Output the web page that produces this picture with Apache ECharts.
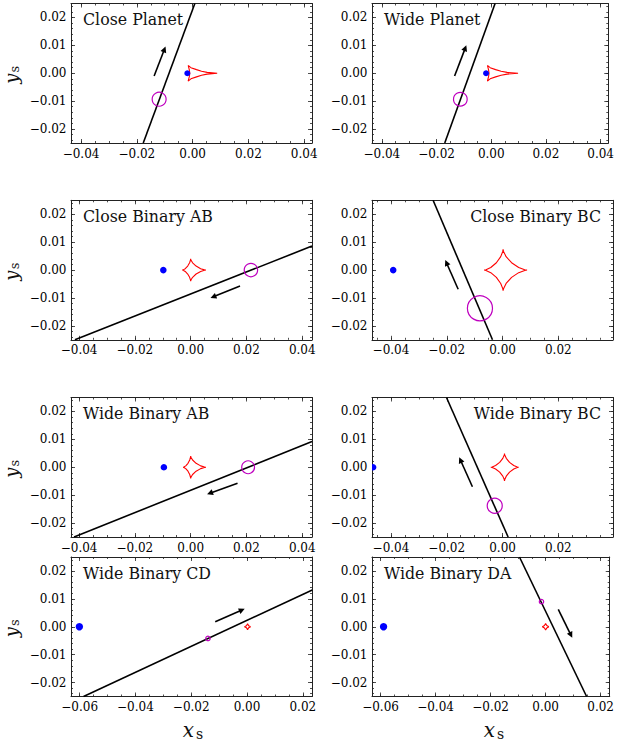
<!DOCTYPE html>
<html><head><meta charset="utf-8">
<script src="https://cdn.jsdelivr.net/npm/echarts@6/dist/echarts.min.js"></script>
<style>html,body{margin:0;padding:0;background:#fff}#c{width:617px;height:742px}</style>
</head><body><div id="c"></div>
<script>
// ---------- data ----------
const panelTitles = ['Close Planet','Wide Planet','Close Binary AB','Close Binary BC','Wide Binary AB','Wide Binary BC','Wide Binary CD','Wide Binary DA'];
const titleAlign = ['left','left','left','right','left','right','left','left'];
const xLimits = [[-0.0436,0.0428],[-0.0436,0.0428],[-0.0429,0.0435],[-0.0468,0.0396],[-0.0429,0.0435],[-0.0468,0.0396],[-0.0631,0.0233],[-0.0631,0.0233]];
const yLimits = [-0.025, 0.025];
const xTicksWide = [-0.04,-0.02,0,0.02,0.04];
const xTicksShift = [-0.04,-0.02,0,0.02];
const xTicksLong = [-0.06,-0.04,-0.02,0,0.02];
const xTickSets = [xTicksWide,xTicksWide,xTicksWide,xTicksShift,xTicksWide,xTicksShift,xTicksLong,xTicksLong];
const yTicks = [-0.02,-0.01,0,0.01,0.02];
const xMinorTicks = [-0.06,-0.055,-0.05,-0.045,-0.04,-0.035,-0.03,-0.025,-0.02,-0.015,-0.01,-0.005,0,0.005,0.01,0.015,0.02,0.025,0.03,0.035,0.04];
const yMinorTicks = [-0.024,-0.022,-0.02,-0.018,-0.016,-0.014,-0.012,-0.01,-0.008,-0.006,-0.004,-0.002,0,0.002,0.004,0.006,0.008,0.01,0.012,0.014,0.016,0.018,0.02,0.022,0.024];

// source trajectory (two points each)
const trajX = [[-0.0177,0.0008],[-0.0170,0.0014],[-0.0415,0.0435],[-0.0249,-0.0036],[-0.0418,0.0435],[-0.0201,0.0020],[-0.0586,0.0234],[-0.0095,0.0149]];
const trajY = [[-0.025,0.025],[-0.025,0.025],[-0.025,0.0086],[0.025,-0.025],[-0.025,0.0092],[0.025,-0.025],[-0.025,0.0132],[0.025,-0.025]];
// direction arrows
const arrowTailX = [-0.0138,-0.0134,0.0177,-0.0159,0.0168,-0.0108,-0.0114,0.0046];
const arrowTailY = [-0.0010,-0.0010,-0.0057,-0.0069,-0.0057,-0.0070,0.0018,0.0062];
const arrowHeadX = [-0.0101,-0.0095,0.0081,-0.0201,0.0069,-0.0151,-0.0018,0.0092];
const arrowHeadY = [0.0086,0.0090,-0.0096,0.0026,-0.0093,0.0026,0.0060,-0.0030];
// source circles
const sourceX = [-0.0120,-0.0113,0.0216,-0.0081,0.0206,-0.0028,-0.0140,-0.0015];
const sourceY = [-0.0093,-0.0093,0,-0.0137,0,-0.0138,-0.0042,0.0090];
const sourceR = [0.0025,0.0025,0.0024,0.0045,0.0023,0.0027,0.0008,0.0008];
// companion lens position
const lensX = [-0.0019,-0.0019,-0.0098,-0.0392,-0.0096,-0.0464,-0.0601,-0.0589];
const lensY = [0,0,0,0,0,0,0,0];
// caustics
const caustic1X = [-0.0016,-0.0006,0.0014,0.0032,0.0052,0.0088,0.0052,0.0032,0.0014,-0.0006,-0.0016,-0.0012,-0.0010,-0.0012,-0.0016];
const caustic1Y = [0.0028,0.0020,0.0013,0.0007,0.0003,0,-0.0003,-0.0007,-0.0013,-0.0020,-0.0028,-0.0013,0,0.0013,0.0028];
const caustic2X = [-0.0014,-0.0004,0.0016,0.0036,0.0058,0.0098,0.0058,0.0036,0.0016,-0.0004,-0.0014,-0.0010,-0.0008,-0.0010,-0.0014];
const caustic2Y = [0.0028,0.0020,0.0013,0.0007,0.0003,0,-0.0003,-0.0007,-0.0013,-0.0020,-0.0028,-0.0013,0,0.0013,0.0028];
const caustic3X = [0.0055,0.00496,0.00358,0.00195,0.00069,0.0001,0,-0.00005,-0.00038,-0.00106,-0.00195,-0.0027,-0.003,-0.0027,-0.00195,-0.00106,-0.00038,-0.00005,0,0.0001,0.00069,0.00195,0.00358,0.00496,0.0055];
const caustic3Y = [0,0.00007,0.0005,0.00142,0.0026,0.0036,0.004,0.0036,0.0026,0.00142,0.0005,0.00007,0,-0.00007,-0.0005,-0.00142,-0.0026,-0.0036,-0.004,-0.0036,-0.0026,-0.00142,-0.0005,-0.00007,0];
const caustic4X = [0.0088,0.00795,0.00579,0.00324,0.00128,0.00035,0.0002,0.00008,-0.00065,-0.00221,-0.00422,-0.00593,-0.0066,-0.00593,-0.00422,-0.00221,-0.00065,0.00008,0.0002,0.00035,0.00128,0.00324,0.00579,0.00795,0.0088];
const caustic4Y = [0,0.00013,0.00093,0.00262,0.00481,0.00667,0.0074,0.00667,0.00481,0.00262,0.00093,0.00013,0,-0.00013,-0.00093,-0.00262,-0.00481,-0.00667,-0.0074,-0.00667,-0.00481,-0.00262,-0.00093,-0.00013,0];
const caustic5X = [0.0055,0.00496,0.00358,0.00195,0.00069,0.0001,0,-0.00005,-0.00034,-0.00096,-0.00176,-0.00243,-0.0027,-0.00243,-0.00176,-0.00096,-0.00034,-0.00005,0,0.0001,0.00069,0.00195,0.00358,0.00496,0.0055];
const caustic5Y = [0,0.00007,0.0005,0.00142,0.0026,0.0036,0.004,0.0036,0.0026,0.00142,0.0005,0.00007,0,-0.00007,-0.0005,-0.00142,-0.0026,-0.0036,-0.004,-0.0036,-0.0026,-0.00142,-0.0005,-0.00007,0];
const caustic6X = [0.0058,0.0053,0.00402,0.00251,0.00134,0.00079,0.0007,0.00062,0.00009,-0.00103,-0.00249,-0.00371,-0.0042,-0.00371,-0.00249,-0.00103,0.00009,0.00062,0.0007,0.00079,0.00134,0.00251,0.00402,0.0053,0.0058];
const caustic6Y = [0,0.00008,0.00061,0.00173,0.00319,0.00441,0.0049,0.00441,0.00319,0.00173,0.00061,0.00008,0,-0.00008,-0.00061,-0.00173,-0.00319,-0.00441,-0.0049,-0.00441,-0.00319,-0.00173,-0.00061,-0.00008,0];
const caustic7X = [0.0013,0.00059,0.0002,-0.00019,-0.0009,-0.00019,0.0002,0.00059,0.0013];
const caustic7Y = [0,0.00039,0.0011,0.00039,0,-0.00039,-0.0011,-0.00039,0];
const caustic8X = [0.0012,0.00042,0,-0.00042,-0.0012,-0.00042,0,0.00042,0.0012];
const caustic8Y = [0,0.00042,0.0012,0.00042,0,-0.00042,-0.0012,-0.00042,0];
const causticXs = [caustic1X,caustic2X,caustic3X,caustic4X,caustic5X,caustic6X,caustic7X,caustic8X];
const causticYs = [caustic1Y,caustic2Y,caustic3Y,caustic4Y,caustic5Y,caustic6Y,caustic7Y,caustic8Y];

// ---------- layout / style ----------
const colLeft = [71, 372];
const rowTop = [3.5, 200.3, 397.5, 557];
const gridW = 241, gridH = 139.5;
const dotRadius = [3, 3, 3.3, 3.3, 3.3, 3.3, 3.7, 3.7];
const SERIF = '"DejaVu Serif", serif';
const frameColor = '#222';
const fmt = v => (Math.abs(v) < 1e-12 ? '0.00' : v.toFixed(2).replace('-', '\u2212'));
const zip = (a, b) => a.map((v, k) => [v, b[k]]);

const grids = [], xAxes = [], yAxes = [], series = [], graphics = [];

for (let i = 0; i < 8; i++) {
  const col = i % 2, row = Math.floor(i / 2);
  const gl = colLeft[col], gt = rowTop[row];
  grids.push({ left: gl, top: gt, width: gridW, height: gridH, show: false });
  const xl = xLimits[i];
  const xMaj = xTickSets[i].filter(v => v >= xl[0] - 1e-9 && v <= xl[1] + 1e-9);
  const xMin = xMinorTicks.filter(v => v > xl[0] && v < xl[1]);
  const yMin = yMinorTicks.filter(v => v > yLimits[0] && v < yLimits[1]);
  const lineOn = { show: true, onZero: false, lineStyle: { color: frameColor, width: 1 } };
  const tickStyle = { color: frameColor, width: 0.8 };
  const mkAxis = (pos, min, max, ticks, len, showLine, labels) => ({
    type: 'value', gridIndex: i, position: pos, min, max, scale: true,
    splitLine: { show: false },
    axisLine: showLine ? lineOn : { show: false, onZero: false },
    axisTick: { show: true, inside: true, length: len, customValues: ticks, lineStyle: tickStyle },
    axisLabel: labels ? { show: true, customValues: ticks, formatter: fmt, margin: 4.5,
      fontFamily: SERIF, fontSize: 12, color: '#000' } : { show: false },
    axisPointer: { show: false }
  });
  xAxes.push(mkAxis('bottom', xl[0], xl[1], xMaj, 4, true, true));
  xAxes.push(mkAxis('bottom', xl[0], xl[1], xMin, 2, false, false));
  xAxes.push(mkAxis('top', xl[0], xl[1], xMaj, 4, true, false));
  xAxes.push(mkAxis('top', xl[0], xl[1], xMin, 2, false, false));
  yAxes.push(mkAxis('left', yLimits[0], yLimits[1], yTicks, 4, true, true));
  yAxes.push(mkAxis('left', yLimits[0], yLimits[1], yMin, 2, false, false));
  yAxes.push(mkAxis('right', yLimits[0], yLimits[1], yTicks, 4, true, false));
  yAxes.push(mkAxis('right', yLimits[0], yLimits[1], yMin, 2, false, false));
  const xi = 4 * i, yi = 4 * i;

  series.push({ type: 'line', xAxisIndex: xi, yAxisIndex: yi, data: zip(causticXs[i], causticYs[i]),
    symbol: 'none', showSymbol: false, silent: true, clip: true, animation: false,
    lineStyle: { color: '#ff0000', width: 1.1 }, z: 2 });
  series.push({ type: 'line', xAxisIndex: xi, yAxisIndex: yi, data: zip(trajX[i], trajY[i]),
    symbol: 'none', showSymbol: false, silent: true, clip: true, animation: false,
    lineStyle: { color: '#000', width: 1.6 }, z: 3 });
  series.push({ type: 'custom', xAxisIndex: xi, yAxisIndex: yi, coordinateSystem: 'cartesian2d',
    data: [[sourceX[i], sourceY[i], sourceR[i]]], clip: true, silent: true, animation: false, z: 4,
    renderItem: (p, api) => {
      const c = api.coord([api.value(0), api.value(1)]);
      const r = api.size([api.value(2), 0])[0];
      return { type: 'circle', shape: { cx: c[0], cy: c[1], r: r },
        style: { fill: 'none', stroke: '#bf00bf', lineWidth: 1.2 } };
    } });
  series.push({ type: 'lines', xAxisIndex: xi, yAxisIndex: yi, coordinateSystem: 'cartesian2d',
    data: [{ coords: [[arrowTailX[i], arrowTailY[i]], [arrowHeadX[i], arrowHeadY[i]]] }],
    symbol: ['none', 'triangle'], symbolSize: 6, silent: true, animation: false, z: 5,
    lineStyle: { color: '#000', width: 1.6, opacity: 1 }, itemStyle: { color: '#000' } });
  const dr = dotRadius[i];
  series.push({ type: 'custom', xAxisIndex: xi, yAxisIndex: yi, coordinateSystem: 'cartesian2d',
    data: [[lensX[i], lensY[i]]], clip: true, silent: true, animation: false, z: 6,
    renderItem: (p, api) => {
      const c = api.coord([api.value(0), api.value(1)]);
      return { type: 'circle', shape: { cx: c[0], cy: c[1], r: dr }, style: { fill: '#0000ff' } };
    } });

  // panel title
  const left = titleAlign[i] === 'left';
  graphics.push({ type: 'text', x: left ? gl + 12 : gl + gridW - 12, y: gt + 16, z: 10,
    style: { text: panelTitles[i], fontFamily: SERIF, fontSize: 15.8, fill: '#111',
      textAlign: left ? 'left' : 'right', textVerticalAlign: 'middle' } });
}

// y axis labels (one per row), rotated to read bottom-to-top
for (let r = 0; r < 4; r++) {
  const cy = rowTop[r] + gridH / 2 + 1;
  graphics.push({ type: 'text', x: 11.8, y: cy + 4.5, rotation: Math.PI / 2,
    style: { text: 'y', fontFamily: SERIF, fontStyle: 'italic', fontSize: 18,
      fill: '#111', textAlign: 'center', textVerticalAlign: 'middle' } });
  graphics.push({ type: 'text', x: 14.6, y: cy - 5.2, rotation: Math.PI / 2,
    style: { text: 's', fontFamily: SERIF, fontSize: 13,
      fill: '#111', textAlign: 'center', textVerticalAlign: 'middle' } });
}
// x axis labels (bottom row)
for (let c = 0; c < 2; c++) {
  const cx = colLeft[c] + gridW / 2;
  graphics.push({ type: 'text', x: cx - 3, y: 729.5, style: { text: 'x', fontFamily: SERIF, fontStyle: 'italic',
    fontSize: 20, fill: '#111', textAlign: 'center', textVerticalAlign: 'middle' } });
  graphics.push({ type: 'text', x: cx + 8, y: 733.5, style: { text: 's', fontFamily: SERIF,
    fontSize: 14, fill: '#111', textAlign: 'center', textVerticalAlign: 'middle' } });
}

const chart = echarts.init(document.getElementById('c'), null, { renderer: 'svg', width: 617, height: 742 });
chart.setOption({
  animation: false,
  backgroundColor: '#fff',
  grid: grids, xAxis: xAxes, yAxis: yAxes, series: series, graphic: graphics
});
</script></body></html>
